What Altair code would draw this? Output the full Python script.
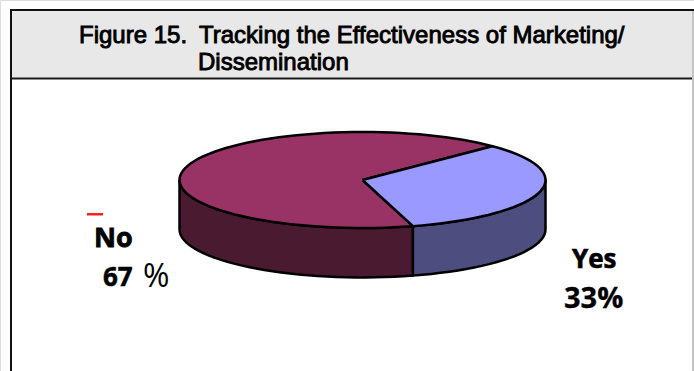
import math
import altair as alt
import pandas as pd

# Survey shares shown on the pie
categories = ["No", "Yes"]
shares = [67, 33]
top_colors = ["#993366", "#9999FF"]
wall_colors = ["#4A1A30", "#4D4D80"]
title_lead = "Figure 15."
title_rest = ["Tracking the Effectiveness of Marketing/", "Dissemination"]

W, H = 694, 371
FIRST_ANGLE = -74.0   # where the Yes slice begins, measured on the ellipse
DEPTH = 1.03          # wall height in units of the ellipse's short radius
STEP = 3


def arc(a0, a1):
    n = max(2, int(abs(a1 - a0) / STEP) + 1)
    return [a0 + (a1 - a0) * i / (n - 1) for i in range(n)]


def pt(a, drop=0.0):
    r = math.radians(a)
    return math.cos(r), math.sin(r) - drop


yes_end = FIRST_ANGLE + 360 * shares[1] / sum(shares)
no_end = FIRST_ANGLE + 360

outlines = {
    "No wall": [pt(a) for a in arc(180, 360 + FIRST_ANGLE)]
    + [pt(a, DEPTH) for a in arc(360 + FIRST_ANGLE, 180)],
    "Yes wall": [pt(a) for a in arc(FIRST_ANGLE, 0)]
    + [pt(a, DEPTH) for a in arc(0, FIRST_ANGLE)],
    "No top": [(0, 0)] + [pt(a) for a in arc(yes_end, no_end)],
    "Yes top": [(0, 0)] + [pt(a) for a in arc(FIRST_ANGLE, yes_end)],
}
fills = {
    "No wall": wall_colors[0],
    "Yes wall": wall_colors[1],
    "No top": top_colors[0],
    "Yes top": top_colors[1],
}

x_scale = alt.Scale(domain=[-1, 1], range=[179.5, 545.5])
y_scale = alt.Scale(domain=[-1, 1], range=[228, 132])

layers = []


def value_rect(x, x2, y, y2, color):
    frame = pd.DataFrame({"k": [0]})
    return alt.Chart(frame).mark_rect(color=color).encode(
        x=alt.value(x), x2=alt.value(x2), y=alt.value(y), y2=alt.value(y2)
    )


# Page frame and shaded heading band
layers.append(value_rect(11, W, 11, 78, "#E8E8E8"))
layers.append(value_rect(10, W, 9, 11, "#111111"))
layers.append(value_rect(10, W, 77.5, 79.5, "#1A1A1A"))
layers.append(value_rect(10, 12, 9, H, "#111111"))
layers.append(value_rect(692, 694, 11, H, "#C4C4C4"))

# Pie drawn back to front: walls, then the two top faces
for name, pts in outlines.items():
    closed = pts + [pts[0]]
    df = pd.DataFrame(
        {"u": [p[0] for p in closed], "v": [p[1] for p in closed], "seq": range(len(closed))}
    )
    layers.append(
        alt.Chart(df)
        .mark_line(fill=fills[name], stroke="#000000", strokeWidth=2.5, strokeJoin="round", interpolate="linear")
        .encode(
            x=alt.X("u:Q", scale=x_scale, axis=None),
            y=alt.Y("v:Q", scale=y_scale, axis=None),
            order="seq:Q",
        )
    )


def label(txt, x, y, size, font, weight="bold", align="left", color="#000000", stroke=0.0):
    df = pd.DataFrame({"t": [txt]})
    kw = {"stroke": color, "strokeWidth": stroke} if stroke else {}
    return alt.Chart(df).mark_text(
        font=font, fontSize=size, fontWeight=weight, align=align, baseline="alphabetic", color=color, **kw
    ).encode(text="t:N", x=alt.value(x), y=alt.value(y))


HEAD = "Liberation Sans"
LAB = "Open Sans"
layers.append(label(title_lead, 79, 43, 24, HEAD, "normal", stroke=0.9))
layers.append(label(title_rest[0], 199, 43, 24, HEAD, "normal", stroke=0.9))
layers.append(label(title_rest[1], 198, 70, 24, HEAD, "normal", stroke=0.9))

layers.append(value_rect(87, 103, 213, 215.5, "#FF2020"))
layers.append(label(categories[0], 94, 247, 27, LAB, stroke=0.8))
layers.append(label(f"{shares[0]}", 103, 286, 26, LAB, stroke=0.5))
layers.append(label("%", 143, 287, 32, LAB, "normal"))
layers.append(label(categories[1], 572, 268, 26, LAB, stroke=0.6))
layers.append(label(f"{shares[1]}%", 564, 308, 29, LAB, stroke=0.3))

chart = (
    alt.layer(*layers)
    .properties(width=W, height=H, padding=0, autosize=alt.AutoSizeParams(type="none"))
    .configure_view(stroke=None)
    .configure(background="#FFFFFF")
)
chart.save("out.html", embed_options={"renderer": "svg", "actions": False})
